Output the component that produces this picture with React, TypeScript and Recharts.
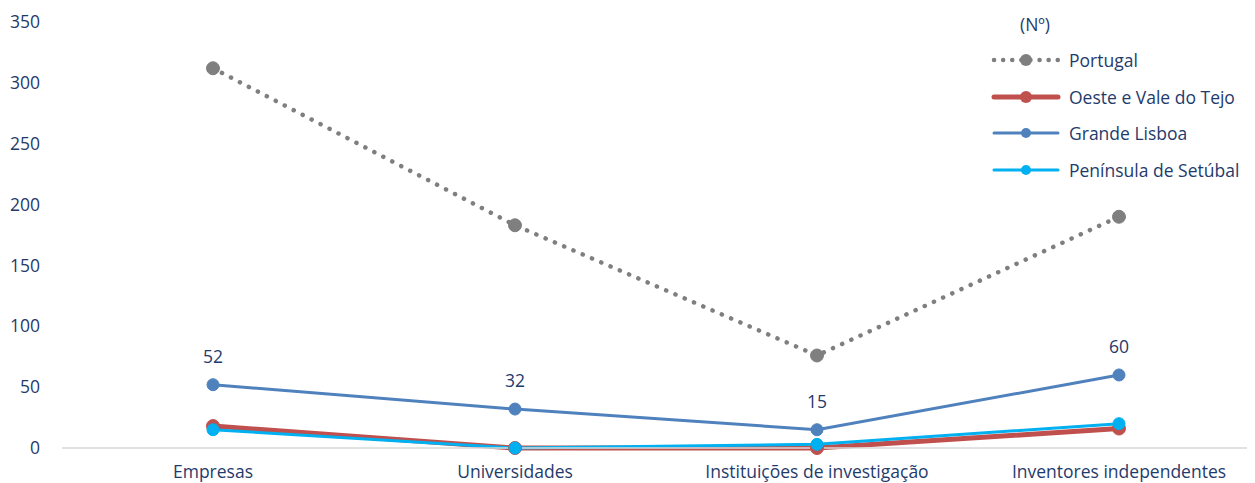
import React from 'react';
import { LineChart, Line, XAxis, YAxis, Legend, LabelList } from 'recharts';

const categories = ['Empresas', 'Universidades', 'Instituições de investigação', 'Inventores independentes'];
const portugal = [312, 183, 76, 190];
const oesteValeTejo = [18, 0, 0, 16];
const grandeLisboa = [52, 32, 15, 60];
const peninsulaSetubal = [15, 0, 3, 20];
const yTicks = [0, 50, 100, 150, 200, 250, 300, 350];

const data = categories.map((name, i) => ({
  name,
  portugal: portugal[i],
  oeste: oesteValeTejo[i],
  lisboa: grandeLisboa[i],
  setubal: peninsulaSetubal[i],
}));

const FONT = '"Open Sans", "Noto Sans", sans-serif';
const TEXT = '#1f3b6b';
const FS = 17.5;

const legendItems = [
  { label: 'Portugal', color: '#7f7f7f', width: 4.5, dotted: true, r: 6 },
  { label: 'Oeste e Vale do Tejo', color: '#c0504d', width: 5, dotted: false, r: 6 },
  { label: 'Grande Lisboa', color: '#4f81bd', width: 3, dotted: false, r: 5 },
  { label: 'Península de Setúbal', color: '#00b0f0', width: 3, dotted: false, r: 5 },
];

// legend drawn as html, placed in the top right corner like the original
const CustomLegend = () => (
  <div style={{ fontFamily: FONT, color: TEXT, fontSize: FS, whiteSpace: 'nowrap' }}>
    <div style={{ marginLeft: 30, height: 36, lineHeight: '36px' }}>(Nº)</div>
    {legendItems.map((it) => (
      <div key={it.label} style={{ display: 'flex', alignItems: 'center', height: 36.5 }}>
        <svg width={72} height={14}>
          <line
            x1={4}
            x2={68}
            y1={7}
            y2={7}
            stroke={it.color}
            strokeWidth={it.width}
            strokeLinecap="round"
            strokeDasharray={it.dotted ? '0.1 9' : undefined}
          />
          <circle cx={36} cy={7} r={it.r} fill={it.color} />
        </svg>
        <span style={{ marginLeft: 7 }}>{it.label}</span>
      </div>
    ))}
  </div>
);

export default function App() {
  return (
    <div style={{ width: 1247, height: 475, overflow: 'hidden', position: 'relative' }}>
      <LineChart
        width={1262}
        height={475}
        data={data}
        margin={{ top: 14, right: 0, bottom: 0, left: 0 }}
      >
        <XAxis
          dataKey="name"
          height={35}
          padding={{ left: 151, right: 151 }}
          axisLine={{ stroke: '#d9d9d9', strokeWidth: 1.5 }}
          tickLine={false}
          tickMargin={12}
          interval={0}
          tick={{ fill: TEXT, fontSize: FS, fontFamily: FONT }}
        />
        <YAxis
          width={54}
          domain={[0, 350]}
          ticks={yTicks}
          axisLine={false}
          tickLine={false}
          tickMargin={16}
          tick={{ fill: TEXT, fontSize: FS, fontFamily: FONT }}
        />
        <Legend
          layout="vertical"
          align="center"
          verticalAlign="middle"
          content={<CustomLegend />}
          wrapperStyle={{ position: 'absolute', left: 982, top: -2, width: 270 }}
        />
        <Line
          dataKey="portugal"
          name="Portugal"
          stroke="#7f7f7f"
          strokeWidth={4.5}
          strokeDasharray="0.1 10"
          strokeLinecap="round"
          dot={{ r: 6.5, fill: '#7f7f7f', stroke: '#7f7f7f', strokeWidth: 1, strokeDasharray: '' }}
          isAnimationActive={false}
        />
        <Line
          dataKey="oeste"
          name="Oeste e Vale do Tejo"
          stroke="#c0504d"
          strokeWidth={5}
          dot={{ r: 6.5, fill: '#c0504d', stroke: '#c0504d', strokeWidth: 1 }}
          isAnimationActive={false}
        />
        <Line
          dataKey="lisboa"
          name="Grande Lisboa"
          stroke="#4f81bd"
          strokeWidth={3}
          dot={{ r: 6, fill: '#4f81bd', stroke: '#4f81bd', strokeWidth: 1 }}
          isAnimationActive={false}
        >
          <LabelList
            dataKey="lisboa"
            position="top"
            offset={22}
            fill={TEXT}
            fontSize={FS}
            fontFamily={FONT}
          />
        </Line>
        <Line
          dataKey="setubal"
          name="Península de Setúbal"
          stroke="#00b0f0"
          strokeWidth={3}
          dot={{ r: 6, fill: '#00b0f0', stroke: '#00b0f0', strokeWidth: 1 }}
          isAnimationActive={false}
        />
      </LineChart>
    </div>
  );
}
